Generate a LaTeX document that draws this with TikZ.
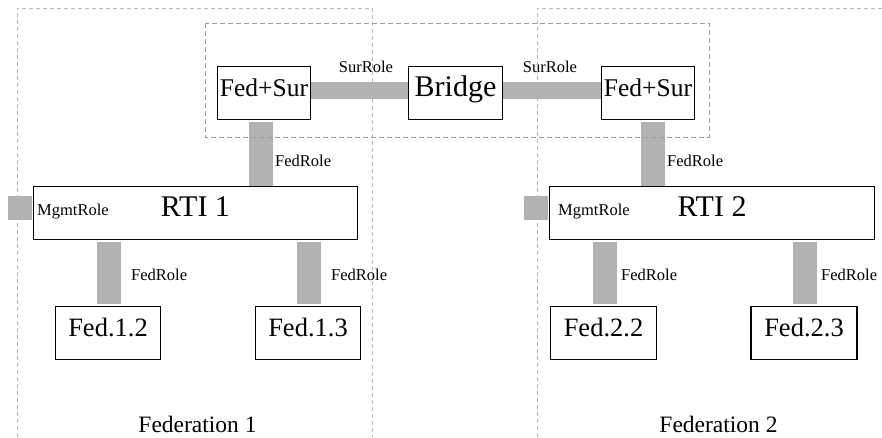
\documentclass[tikz,border=0pt]{standalone}
\usepackage{fontspec}
\setmainfont{Liberation Serif}[Ligatures=TeX]
\begin{document}
\begin{tikzpicture}[x=1pt,y=1pt,
  box/.style={draw=black,line width=1.3pt,fill=white,inner sep=0pt,
    text height=0.68em,text depth=0pt,minimum height=53pt},
  bar/.style={draw=black!30,line cap=butt},
  role/.style={inner sep=0pt,font=\rmfamily\fontsize{16.5}{18}\selectfont},
  fedframe/.style={draw=black!28,line width=0.8pt,dash pattern=on 4pt off 3pt},
  bridgeframe/.style={draw=black!38,line width=1pt,dash pattern=on 5pt off 3pt}]
\useasboundingbox (0,0) rectangle (882,-437);

% bridge federates and the bridge itself
\node[box,minimum width=93pt,font=\rmfamily\fontsize{25.5}{28}\selectfont] (fs1) at (264,-93) {Fed+Sur};
\node[box,minimum width=94pt,font=\rmfamily\fontsize{30}{32}\selectfont] (br) at (455.5,-93) {Bridge};
\node[box,minimum width=93pt,font=\rmfamily\fontsize{25.5}{28}\selectfont] (fs2) at (648,-93) {Fed+Sur};

% run-time infrastructures
\node[box,minimum width=324pt,font=\rmfamily\fontsize{30}{32}\selectfont] (rti1) at (195.5,-213) {RTI 1};
\node[box,minimum width=325pt,font=\rmfamily\fontsize{30}{32}\selectfont] (rti2) at (712,-213) {RTI 2};

% member federates
\node[box,minimum width=105pt,font=\rmfamily\fontsize{26.5}{28}\selectfont] (f12) at (108,-333) {Fed.1.2};
\node[box,minimum width=105pt,font=\rmfamily\fontsize{26.5}{28}\selectfont] (f13) at (308,-333) {Fed.1.3};
\node[box,minimum width=106pt,font=\rmfamily\fontsize{26.5}{28}\selectfont] (f22) at (603.5,-333) {Fed.2.2};
\node[box,minimum width=106pt,font=\rmfamily\fontsize{26.5}{28}\selectfont] (f23) at (804,-333) {Fed.2.3};

% role connectors
\draw[bar,line width=17pt] ([yshift=2.5]fs1.east) -- ([yshift=2.5]br.west);
\draw[bar,line width=17pt] ([yshift=2.5]br.east) -- ([yshift=2.5]fs2.west);
\draw[bar,line width=24pt] ([shift={(-3,-1.5)}]fs1.south) -- ([xshift=-3]fs1.south |- rti1.north);
\draw[bar,line width=24pt] ([shift={(5,-1.5)}]fs2.south) -- ([xshift=5]fs2.south |- rti2.north);
\draw[bar,line width=24pt] ([yshift=2]f12.north -| 109,0) -- ([yshift=-1.5]rti1.south -| 109,0);
\draw[bar,line width=24pt] ([yshift=2]f13.north -| 309,0) -- ([yshift=-1.5]rti1.south -| 309,0);
\draw[bar,line width=24pt] ([yshift=2]f22.north -| 605,0) -- ([yshift=-1.5]rti2.south -| 605,0);
\draw[bar,line width=24pt] ([yshift=2]f23.north -| 805,0) -- ([yshift=-1.5]rti2.south -| 805,0);

% management stubs
\coordinate (m1) at ([shift={(-24.6,5)}]rti1.west);
\coordinate (m2) at ([shift={(-24.6,5)}]rti2.west);
\draw[bar,line width=24pt] (m1) -- ([shift={(-0.6,5)}]rti1.west);
\draw[bar,line width=24pt] (m2) -- ([shift={(-0.6,5)}]rti2.west);

% role labels
\node[role,anchor=base] (sr1) at (366,-72) {SurRole};
\node[role,anchor=base] (sr2) at (550,-72) {SurRole};
\node[role,anchor=base west] (fr1) at (275,-166) {FedRole};
\node[role,anchor=base west] (fr2) at (667,-166) {FedRole};
\node[role,anchor=base west] (mr1) at (37,-215) {MgmtRole};
\node[role,anchor=base west] (mr2) at (558,-215) {MgmtRole};
\node[role,anchor=base west] (fr3) at (131,-280) {FedRole};
\node[role,anchor=base west] (fr4) at (331,-280) {FedRole};
\node[role,anchor=base west] (fr5) at (621,-280) {FedRole};
\node[role,anchor=base west] (fr6) at (821,-280) {FedRole};

% federation frames
\draw[fedframe] (17,-437) -- (17,-8) -- (372,-8) -- (372,-437);
\draw[fedframe] (537,-437) -- (537,-8) -- (882,-8);
\draw[bridgeframe] (205,-23) rectangle (709,-137);

\node[anchor=base,inner sep=0pt,font=\rmfamily\fontsize{23.5}{26}\selectfont] (fed1) at (197.5,-432.5) {Federation 1};
\node[anchor=base,inner sep=0pt,font=\rmfamily\fontsize{23.5}{26}\selectfont] (fed2) at (718.5,-432.5) {Federation 2};
\end{tikzpicture}
\end{document}
